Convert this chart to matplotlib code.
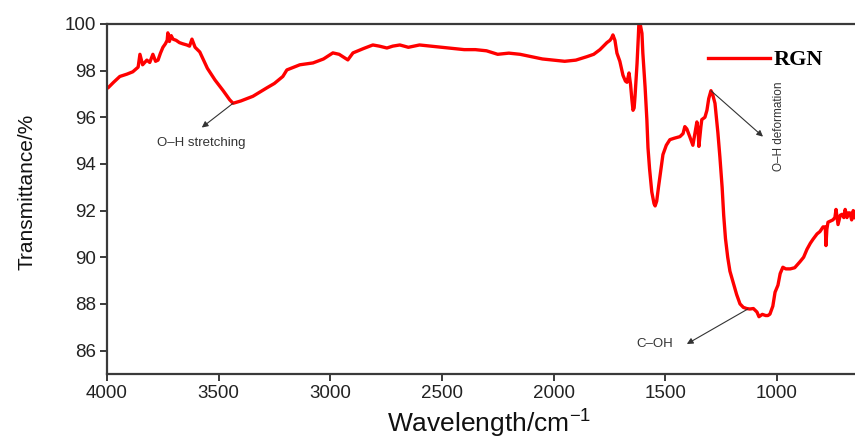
import matplotlib
matplotlib.use("Agg")
import matplotlib.pyplot as plt

# FTIR spectrum of RGN (wavenumber in cm-1, transmittance in %)
wavenumber = [
    4000, 3995, 3970, 3942, 3910, 3884, 3860, 3852, 3840, 3821, 3808, 3794,
    3782, 3771, 3760, 3749, 3738, 3730, 3727, 3720, 3712, 3704, 3690, 3675,
    3660, 3642, 3630, 3619, 3605, 3584, 3550, 3516, 3480, 3450, 3435, 3400,
    3346, 3284, 3250, 3212, 3194, 3136, 3077, 3030, 2988, 2960, 2921, 2898,
    2850, 2809, 2780, 2746, 2720, 2688, 2650, 2600, 2550, 2500, 2450, 2400,
    2350, 2300, 2250, 2200, 2150, 2100, 2050, 2000, 1950, 1900, 1850, 1820,
    1792, 1761, 1747, 1740, 1734, 1725, 1716, 1703, 1689, 1678, 1671, 1662,
    1655, 1649, 1644, 1639, 1635, 1626, 1620, 1617, 1612, 1604, 1600, 1590,
    1582, 1577, 1570, 1560, 1550, 1545, 1538, 1530, 1520, 1510, 1495, 1479,
    1460, 1434, 1420, 1412, 1403, 1390, 1376, 1365, 1358, 1353, 1349, 1340,
    1336, 1322, 1313, 1305, 1295, 1288, 1277, 1264, 1255, 1245, 1238, 1230,
    1220, 1210, 1195, 1180, 1165, 1150, 1135, 1121, 1105, 1089, 1080, 1065,
    1050, 1040, 1031, 1018, 1008, 995, 985, 973, 960, 940, 920, 897, 880,
    865, 850, 838, 820, 807, 793, 783, 780, 776, 771, 760, 749, 740, 735,
    730, 726, 716, 708, 700, 694, 686, 680, 673, 665, 658, 650,
]
transmittance = [
    97.25, 97.26, 97.5, 97.75, 97.85, 97.95, 98.15, 98.7, 98.25, 98.45, 98.35, 98.7,
    98.4, 98.45, 98.75, 99.0, 99.15, 99.3, 99.62, 99.25, 99.5, 99.35, 99.3, 99.2,
    99.15, 99.1, 99.05, 99.35, 99.0, 98.8, 98.1, 97.6, 97.15, 96.75, 96.6, 96.7,
    96.9, 97.26, 97.45, 97.75, 98.03, 98.25, 98.33, 98.5, 98.76, 98.7, 98.46, 98.76,
    98.95, 99.1, 99.05, 98.97, 99.05, 99.1, 99.0, 99.1, 99.05, 99.0, 98.95, 98.9,
    98.9, 98.85, 98.7, 98.75, 98.7, 98.6, 98.5, 98.45, 98.4, 98.45, 98.6, 98.7,
    98.9, 99.2, 99.3, 99.4, 99.53, 99.3, 98.75, 98.4, 97.8, 97.55, 97.5, 97.9,
    97.4, 96.75, 96.3, 96.4, 96.9, 98.3, 99.5, 100.2, 100.0, 99.6, 98.75, 97.3,
    95.9, 94.7, 93.8, 92.8, 92.3, 92.2, 92.4, 93.0, 93.7, 94.4, 94.8, 95.04,
    95.1, 95.17, 95.3, 95.6, 95.5, 95.17, 94.8, 95.4, 95.8, 95.5, 94.75, 95.6,
    95.9, 96.0, 96.3, 96.8, 97.14, 97.0, 96.6, 95.34, 94.3, 93.0, 91.8, 90.8,
    90.0, 89.4, 88.9, 88.4, 88.0, 87.85, 87.8, 87.78, 87.8, 87.65, 87.45, 87.55,
    87.5, 87.5, 87.56, 87.9, 88.5, 88.8, 89.3, 89.57, 89.5, 89.5, 89.55, 89.8, 90.0,
    90.34, 90.6, 90.77, 91.0, 91.1, 91.3, 91.3, 90.5, 91.2, 91.5, 91.55, 91.6, 91.7, 92.05,
    91.7, 91.4, 91.8, 91.84, 91.7, 92.05, 91.7, 91.9, 91.9, 91.6, 92.0, 91.7,
]

plt.rcParams['font.family'] = ['Liberation Sans', 'DejaVu Sans']
plt.rcParams['mathtext.fontset'] = 'custom'
plt.rcParams['mathtext.rm'] = 'Liberation Sans'
plt.rcParams['mathtext.it'] = 'Liberation Sans:italic'

fig = plt.figure(figsize=(8.55, 4.44), dpi=100)
ax = fig.add_axes([0.125, 0.158, 0.875, 0.788])

ax.plot(wavenumber, transmittance, color='#ff0000', lw=2.4, label='RGN',
        solid_joinstyle='round')

ax.set_xlim(4000, 650)
ax.set_ylim(85, 100)
ax.set_xticks([4000, 3500, 3000, 2500, 2000, 1500, 1000])
ax.set_yticks([86, 88, 90, 92, 94, 96, 98, 100])

for side in ['left', 'bottom', 'top']:
    ax.spines[side].set_color('#3a3a3a')
    ax.spines[side].set_linewidth(1.6)
ax.spines['right'].set_visible(False)
ax.tick_params(direction='out', length=5, width=1.4, color='#3a3a3a',
               labelsize=13.5, pad=3, labelcolor='#222222')

ax.set_ylabel('Transmittance/%', fontsize=15, color='#111111')
ax.yaxis.set_label_coords(-0.094, 0.52)
ax.set_xlabel('Wavelength/cm$^{-1}$', fontsize=19, color='#111111')
ax.xaxis.set_label_coords(0.511, -0.098)

# band assignments
arrow = dict(arrowstyle='-|>', color='#333333', lw=0.8,
             mutation_scale=9, shrinkA=0, shrinkB=0)
ax.annotate('', xy=(3575, 95.56), xytext=(3435, 96.6), arrowprops=arrow)
ax.text(3579, 94.9, 'O\u2013H stretching', fontsize=9.5, color='#333333',
        ha='center', va='center')
ax.annotate('', xy=(1062, 95.17), xytext=(1295, 97.14), arrowprops=arrow)
ax.text(990, 95.6, 'O\u2013H deformation', fontsize=8.5, color='#333333',
        ha='center', va='center', rotation=90)
ax.annotate('', xy=(1403, 86.28), xytext=(1130, 87.78), arrowprops=arrow)
ax.text(1546, 86.28, 'C\u2013OH', fontsize=9.5, color='#333333',
        ha='center', va='center')

leg = ax.legend(loc='center left', bbox_to_anchor=(0.803, 0.897), frameon=False,
                borderpad=0, borderaxespad=0, handlelength=2.8, handletextpad=0.15,
                prop={'family': 'Liberation Serif', 'weight': 'bold', 'size': 16})

fig.savefig('out.png', dpi=100)
